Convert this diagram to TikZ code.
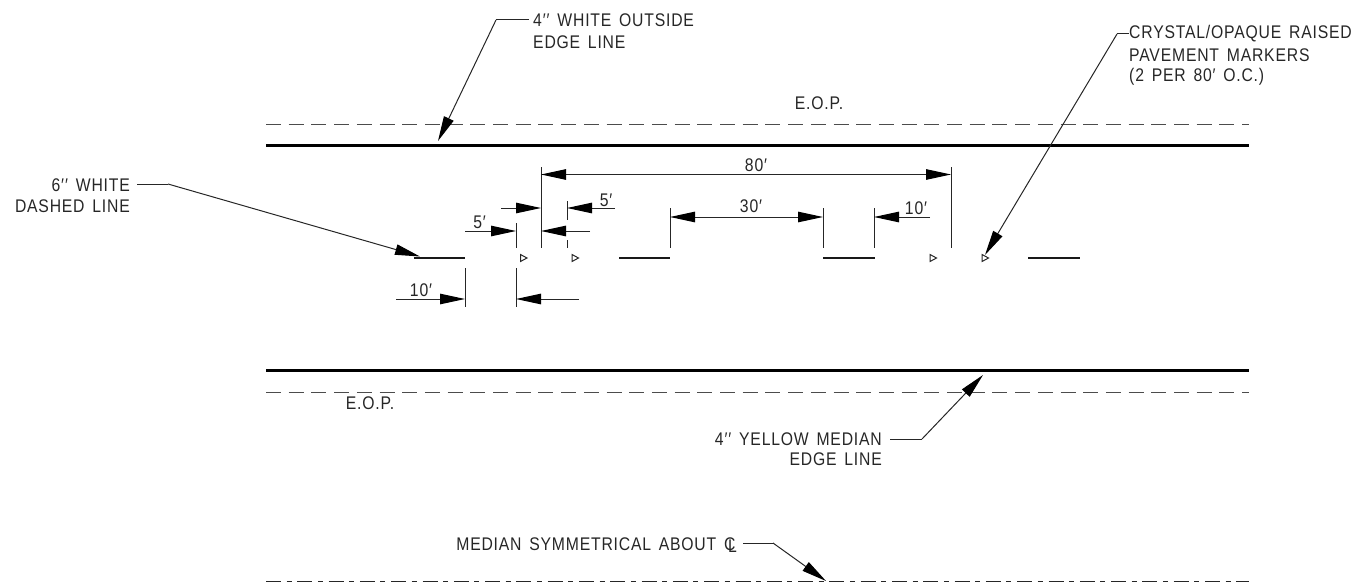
\documentclass[tikz,border=0pt]{standalone}
\usepackage{fontspec}
\setmainfont[FakeStretch=0.86,LetterSpace=4.4,WordSpace=1.5]{Liberation Sans}
\newcommand{\ftin}{′\kern1pt′}
\usepackage{tikz}
\usetikzlibrary{arrows.meta}
\tikzset{
  lbl/.style={inner sep=0pt,font=\fontsize{18.3}{20}\selectfont,text=black!85},
  thin line/.style={line width=1pt,black!85},
  edge line/.style={line width=3pt},
  eop line/.style={line width=1pt,black!70,dash pattern=on 15pt off 7.7pt},
  dash mark/.style={line width=2pt,black!90},
  dim/.style={line width=1pt,black!85,-{Triangle[length=25pt,width=10.5pt,black]}},
  dimboth/.style={line width=1pt,black!85,{Triangle[length=25pt,width=10.5pt,black]}-{Triangle[length=25pt,width=10.5pt,black]}}
}
\begin{document}
\begin{tikzpicture}[x=1pt,y=-1pt]
    \useasboundingbox (0,0) rectangle (1356,586);
    % road edges
    \draw[eop line] (266,124) -- (1249,124);
    \draw[edge line] (266,145) -- (1249,145);
    \draw[edge line] (266,370) -- (1249,370);
    \draw[eop line] (266,392) -- (1249,392);
    \draw[thin line,dash pattern=on 15pt off 5.5pt on 5pt off 5.8pt] (266,581.5) -- (1249,581.5);
    % dashes
    \draw[dash mark] (414,258) -- (465,258);
    \draw[dash mark] (619,258) -- (670,258);
    \draw[dash mark] (823,258) -- (875,258);
    \draw[dash mark] (1028,258) -- (1080,258);
    % markers
    \foreach \xm in {520.5,572,930,982}
      \draw[thin line] (\xm,254.5) -- (\xm+6.5,258) -- (\xm,261.5) -- cycle;
    % extension lines
    \coordinate (extA1) at (541,167);
    \coordinate (extA2) at (541,248);
    \coordinate (extB1) at (951,167);
    \coordinate (extB2) at (951,248);
    \coordinate (extC1) at (567,201);
    \coordinate (extC2) at (567,220);
    \coordinate (extC3) at (567,240);
    \coordinate (extC4) at (567,248);
    \coordinate (extD1) at (516,223);
    \coordinate (extD2) at (516,248);
    \coordinate (extE1) at (670,208);
    \coordinate (extE2) at (670,248);
    \coordinate (extF1) at (823,208);
    \coordinate (extF2) at (823,248);
    \coordinate (extG1) at (874,208);
    \coordinate (extG2) at (874,248);
    \coordinate (extH1) at (465,268);
    \coordinate (extH2) at (465,307);
    \coordinate (extI1) at (516,268);
    \coordinate (extI2) at (516,307);
    \draw[thin line] (extA1) -- (extA2);
    \draw[thin line] (extB1) -- (extB2);
    \draw[thin line] (extC1) -- (extC2);
    \draw[thin line] (extC3) -- (extC4);
    \draw[thin line] (extD1) -- (extD2);
    \draw[thin line] (extE1) -- (extE2);
    \draw[thin line] (extF1) -- (extF2);
    \draw[thin line] (extG1) -- (extG2);
    \draw[thin line] (extH1) -- (extH2);
    \draw[thin line] (extI1) -- (extI2);
    % dimensions
    \coordinate (eightyL) at (541,174.5);
    \coordinate (eightyR) at (951,174.5);
    \draw[dimboth] (eightyL) -- (eightyR);
    \node[lbl,anchor=base] (eighty) at (756,171) {80′};
    \coordinate (fiveAs) at (501,208);
    \coordinate (fiveAe) at (541,208);
    \coordinate (fiveBs) at (615,208);
    \coordinate (fiveBe) at (567,208);
    \draw[dim] (fiveAs) -- (fiveAe);
    \draw[dim] (fiveBs) -- (fiveBe);
    \node[lbl,anchor=base] (fiveB) at (606,206) {5′};
    \coordinate (fiveCs) at (465,231);
    \coordinate (fiveCe) at (516,231);
    \coordinate (fiveDs) at (590,231);
    \coordinate (fiveDe) at (541,231);
    \draw[dim] (fiveCs) -- (fiveCe);
    \draw[dim] (fiveDs) -- (fiveDe);
    \node[lbl,anchor=base] (fiveC) at (479.5,228) {5′};
    \coordinate (thirtyL) at (670,217);
    \coordinate (thirtyR) at (823,217);
    \draw[dimboth] (thirtyL) -- (thirtyR);
    \node[lbl,anchor=base] (thirty) at (751,212) {30′};
    \coordinate (tenAs) at (930,217);
    \coordinate (tenAe) at (874,217);
    \draw[dim] (tenAs) -- (tenAe);
    \node[lbl,anchor=base] (tenA) at (916,214) {10′};
    \coordinate (tenBs) at (396,299);
    \coordinate (tenBe) at (465,299);
    \coordinate (tenCs) at (579,299);
    \coordinate (tenCe) at (516,299);
    \draw[dim] (tenBs) -- (tenBe);
    \draw[dim] (tenCs) -- (tenCe);
    \node[lbl,anchor=base] (tenB) at (421,296) {10′};
    % E.O.P.
    \node[lbl] (eopTop) at (819,103) {E.O.P.};
    \node[lbl] (eopBot) at (370,403.5) {E.O.P.};
    % callouts
    \node[lbl,anchor=west] (whiteA) at (533,20) {4\ftin{} WHITE OUTSIDE};
    \node[lbl,anchor=west] at (533,42) {EDGE LINE};
    \coordinate (whiteK) at (496,20);
    \coordinate (whiteT) at (438,141);
    \draw[thin line] (whiteA.west) ++(-4,0) coordinate (whiteS) -- (whiteK);
    \draw[dim] (whiteK) -- (whiteT);
    \node[lbl,anchor=west] (rpmA) at (1129,34) {CRYSTAL/OPAQUE RAISED};
    \node[lbl,anchor=west] at (1129,55) {PAVEMENT MARKERS};
    \node[lbl,anchor=west] at (1129,76.5) {(2 PER 80′ O.C.)};
    \coordinate (rpmK) at (1117,34);
    \coordinate (rpmT) at (985,255);
    \draw[thin line] (rpmA.west) -- (rpmK);
    \draw[dim] (rpmK) -- (rpmT);
    \node[lbl,anchor=east] (sixA) at (130,185) {6\ftin{} WHITE};
    \node[lbl,anchor=east] at (130,206) {DASHED LINE};
    \coordinate (sixK) at (168,184);
    \coordinate (sixT) at (420,256.5);
    \draw[thin line] (sixA.east) ++(7,-1) coordinate (sixS) -- (sixK);
    \draw[dim] (sixK) -- (sixT);
    \node[lbl,anchor=east] (yelA) at (882,439) {4\ftin{} YELLOW MEDIAN};
    \node[lbl,anchor=east] at (882,459) {EDGE LINE};
    \coordinate (yelK) at (922,439);
    \coordinate (yelT) at (983,375);
    \draw[thin line] (yelA.east) ++(8,0) coordinate (yelS) -- (yelK);
    \draw[dim] (yelK) -- (yelT);
    \node[lbl,anchor=east] (medA) at (737,545) {MEDIAN SYMMETRICAL ABOUT \rlap{C}\raisebox{-2pt}{\kern4pt L}};
    \coordinate (medK) at (773,543);
    \coordinate (medT) at (826,581);
    \draw[thin line] (medA.east) ++(6,-2) coordinate (medS) -- (medK);
    \draw[dim] (medK) -- (medT);
\end{tikzpicture}
\end{document}
